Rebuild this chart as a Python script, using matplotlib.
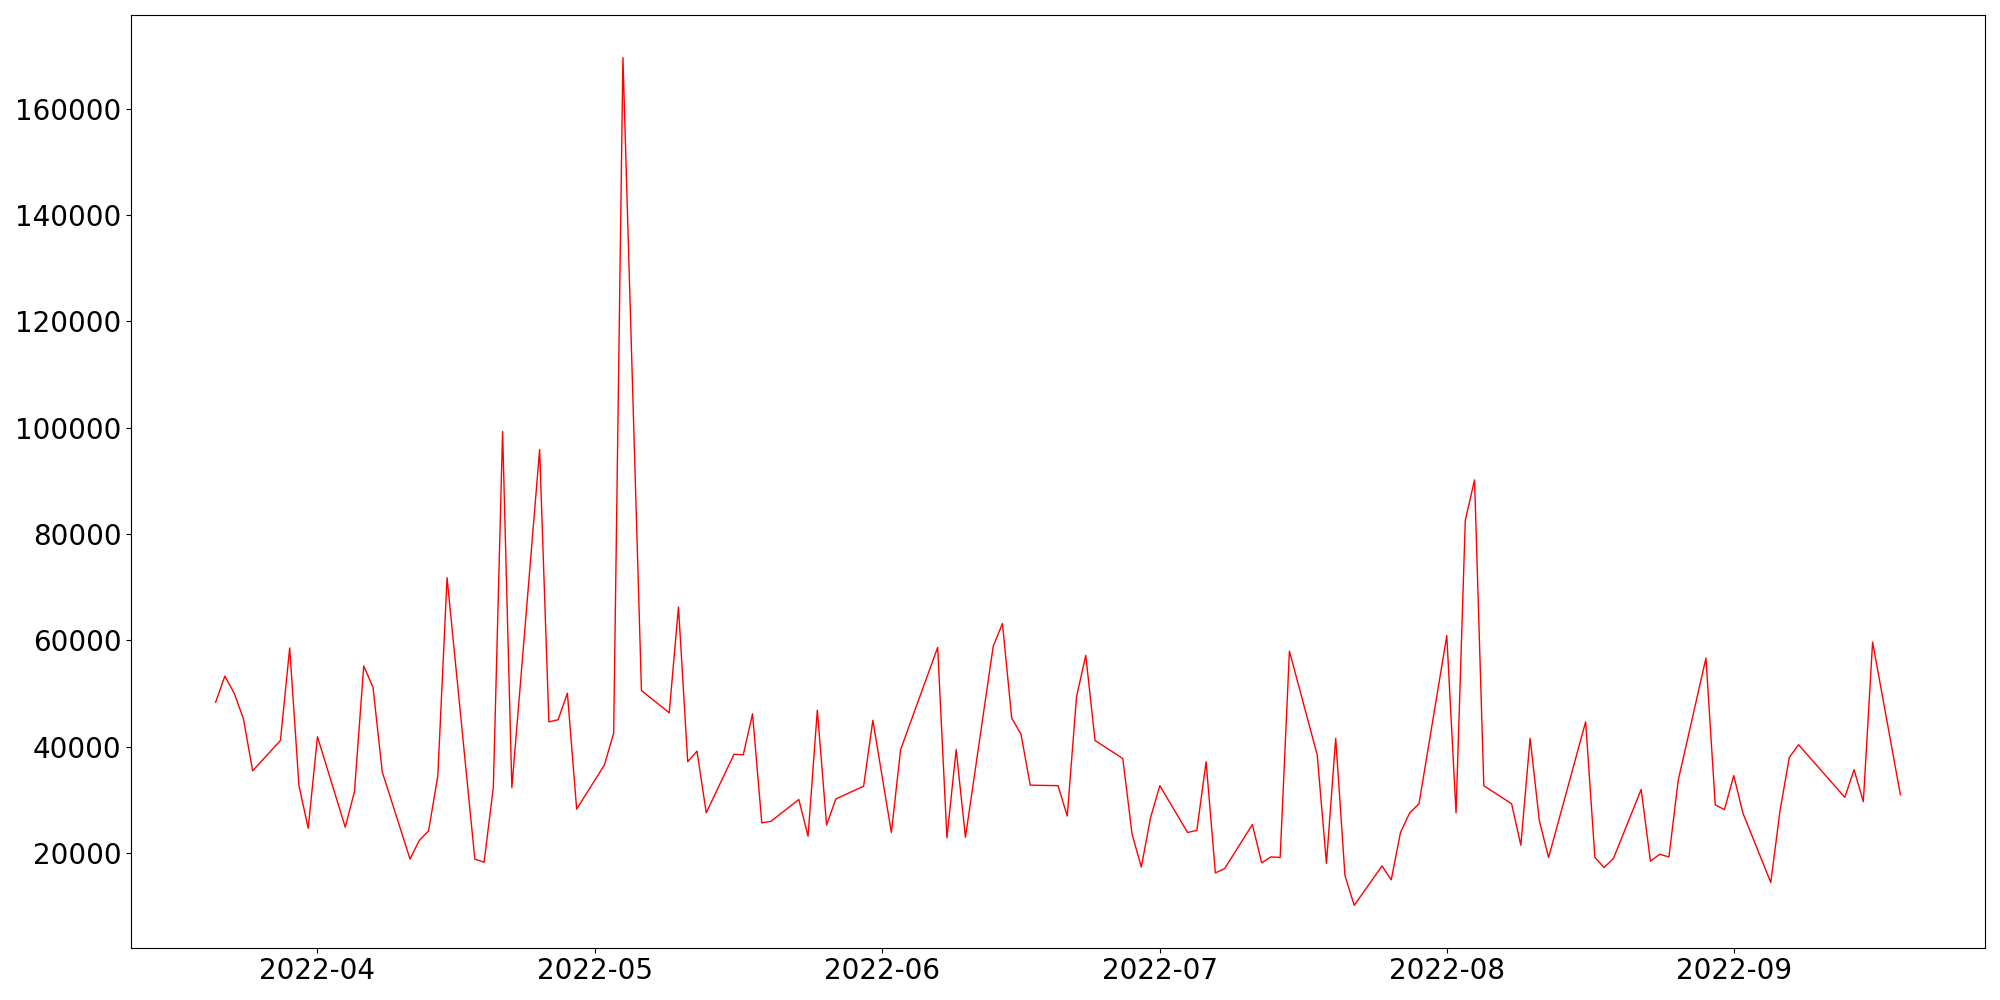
import matplotlib
matplotlib.use("Agg")
import matplotlib.pyplot as plt
import pandas as pd

dates = [
    "2022-03-21", "2022-03-22", "2022-03-23", "2022-03-24", "2022-03-25",
    "2022-03-28", "2022-03-29", "2022-03-30", "2022-03-31", "2022-04-01",
    "2022-04-04", "2022-04-05", "2022-04-06", "2022-04-07", "2022-04-08",
    "2022-04-11", "2022-04-12", "2022-04-13", "2022-04-14", "2022-04-15",
    "2022-04-18", "2022-04-19", "2022-04-20", "2022-04-21", "2022-04-22",
    "2022-04-25", "2022-04-26", "2022-04-27", "2022-04-28", "2022-04-29",
    "2022-05-02", "2022-05-03", "2022-05-04", "2022-05-06",
    "2022-05-09", "2022-05-10", "2022-05-11", "2022-05-12", "2022-05-13",
    "2022-05-16", "2022-05-17", "2022-05-18", "2022-05-19", "2022-05-20",
    "2022-05-23", "2022-05-24", "2022-05-25", "2022-05-26", "2022-05-27",
    "2022-05-30", "2022-05-31", "2022-06-02", "2022-06-03",
    "2022-06-07", "2022-06-08", "2022-06-09", "2022-06-10",
    "2022-06-13", "2022-06-14", "2022-06-15", "2022-06-16", "2022-06-17",
    "2022-06-20", "2022-06-21", "2022-06-22", "2022-06-23", "2022-06-24",
    "2022-06-27", "2022-06-28", "2022-06-29", "2022-06-30", "2022-07-01",
    "2022-07-04", "2022-07-05", "2022-07-06", "2022-07-07", "2022-07-08",
    "2022-07-11", "2022-07-12", "2022-07-13", "2022-07-14", "2022-07-15",
    "2022-07-18", "2022-07-19", "2022-07-20", "2022-07-21", "2022-07-22",
    "2022-07-25", "2022-07-26", "2022-07-27", "2022-07-28", "2022-07-29",
    "2022-08-01", "2022-08-02", "2022-08-03", "2022-08-04", "2022-08-05",
    "2022-08-08", "2022-08-09", "2022-08-10", "2022-08-11", "2022-08-12",
    "2022-08-16", "2022-08-17", "2022-08-18", "2022-08-19",
    "2022-08-22", "2022-08-23", "2022-08-24", "2022-08-25", "2022-08-26",
    "2022-08-29", "2022-08-30", "2022-08-31", "2022-09-01", "2022-09-02",
    "2022-09-05", "2022-09-06", "2022-09-07", "2022-09-08",
    "2022-09-13", "2022-09-14", "2022-09-15", "2022-09-16",
    "2022-09-19",
]

values = [
    48400, 53300, 50100, 45300, 35500,
    41200, 58600, 32700, 24700, 41900,
    24900, 31600, 55200, 51200, 35300,
    18900, 22400, 24200, 34500, 71800,
    18900, 18300, 32400, 99300, 32300,
    95900, 44700, 45100, 50100, 28300,
    36600, 42600, 169600, 50600,
    46400, 66300, 37200, 39200, 27600,
    38600, 38500, 46200, 25700, 26000,
    30100, 23200, 46900, 25300, 30200,
    32600, 45000, 23900, 39500,
    58700, 22900, 39500, 23000,
    58900, 63200, 45400, 42400, 32800,
    32700, 27000, 49400, 57200, 41200,
    37800, 23600, 17400, 26700, 32700,
    23900, 24300, 37200, 16300, 17100,
    25400, 18200, 19300, 19200, 58000,
    38500, 18100, 41600, 15800, 10200,
    17600, 15000, 23900, 27600, 29300,
    60900, 27600, 82600, 90200, 32700,
    29300, 21500, 41600, 26100, 19200,
    44700, 19200, 17300, 19000,
    32000, 18500, 19800, 19300, 33700,
    56700, 29100, 28200, 34600, 27500,
    14500, 28000, 38000, 40400,
    30500, 35700, 29700, 59700,
    31000,
]

x = pd.to_datetime(dates)

fig, ax = plt.subplots(figsize=(20, 10), dpi=100)
ax.plot(x, values, color="red", linewidth=1.0)
ax.tick_params(axis="both", labelsize=20)
fig.subplots_adjust(left=0.0657, right=0.9923, top=0.9847, bottom=0.0523)
fig.savefig("out.png", dpi=100)
